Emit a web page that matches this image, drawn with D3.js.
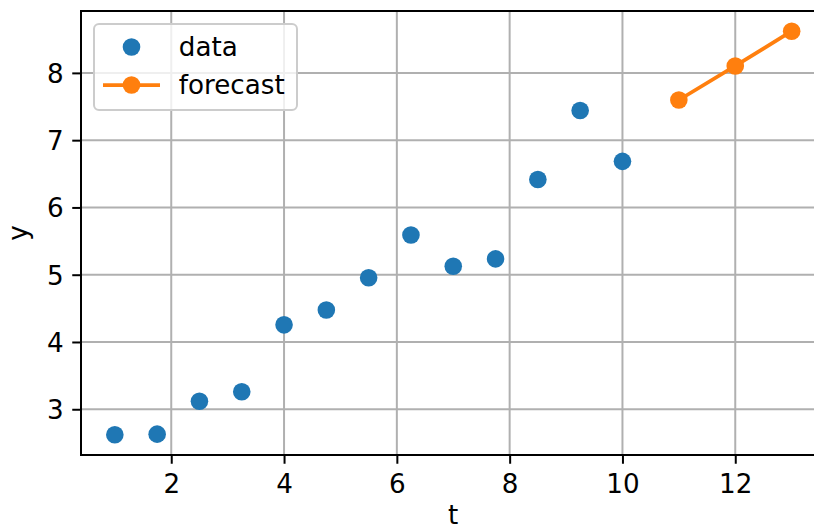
<!DOCTYPE html>
<html><head><meta charset="utf-8">
<script src="https://cdn.jsdelivr.net/npm/d3@7"></script>
<style>html,body{margin:0;padding:0;background:#fff;overflow:hidden}svg{display:block}</style>
</head><body>
<script>
const dataT = [1, 1.75, 2.5, 3.25, 4, 4.75, 5.5, 6.25, 7, 7.75, 8.5, 9.25, 10];
const dataY = [2.62, 2.63, 3.12, 3.26, 4.255, 4.475, 4.955, 5.59, 5.125, 5.235, 6.415, 7.44, 6.685];
const forecastT = [11, 12, 13];
const forecastY = [7.597, 8.103, 8.62];
const xTicks = [2, 4, 6, 8, 10, 12];
const yTicks = [3, 4, 5, 6, 7, 8];
const seriesNames = ["data", "forecast"];

(function () {
const W = 814, H = 530;
const FS = 26.2;
const font = "'DejaVu Sans', sans-serif";
const blue = "#1f77b4", orange = "#ff7f0e";
const pL = 81, pT = 11, pB = 455, pR = 825.5;

const allT = dataT.concat(forecastT), allY = dataY.concat(forecastY);
const tMin = d3.min(allT), tMax = d3.max(allT), yMin = d3.min(allY), yMax = d3.max(allY);
const tm = (tMax - tMin) * 0.05, ym = (yMax - yMin) * 0.05;
const x = d3.scaleLinear().domain([tMin - tm, tMax + tm]).range([pL, pR]);
const y = d3.scaleLinear().domain([yMin - ym, yMax + ym]).range([pB, pT]);

const svg = d3.select("body").append("svg").attr("width", W).attr("height", H)
  .style("font-family", font);

// grid
const g = svg.append("g");
g.selectAll("line.gx").data(xTicks).join("line")
  .attr("x1", d => x(d)).attr("x2", d => x(d)).attr("y1", pT).attr("y2", pB)
  .attr("stroke", "#b0b0b0").attr("stroke-width", 2);
g.selectAll("line.gy").data(yTicks).join("line")
  .attr("y1", d => y(d)).attr("y2", d => y(d)).attr("x1", pL).attr("x2", pR)
  .attr("stroke", "#b0b0b0").attr("stroke-width", 2);

// axes
const xAxis = d3.axisBottom(x).tickValues(xTicks).tickSize(8.75).tickPadding(5).tickFormat(d3.format("d"));
const yAxis = d3.axisLeft(y).tickValues(yTicks).tickSize(8.75).tickPadding(8.5).tickFormat(d3.format("d"));
const gx = svg.append("g").attr("transform", `translate(0,${pB})`).call(xAxis);
const gy = svg.append("g").attr("transform", `translate(${pL},0)`).call(yAxis);
[gx, gy].forEach(a => {
  a.select(".domain").remove();
  a.selectAll(".tick line").attr("stroke", "#000").attr("stroke-width", 2);
  a.selectAll(".tick text").attr("fill", "#000").style("font-family", font).style("font-size", FS + "px");
});
gx.selectAll(".tick text").attr("dy", null).attr("y", 38.3);
gy.selectAll(".tick text").attr("dy", "0.36em");

// spines
svg.append("line").attr("x1", pL).attr("x2", pL).attr("y1", pT).attr("y2", pB + 1)
  .attr("stroke", "#000").attr("stroke-width", 2);
svg.append("line").attr("x1", pL - 1).attr("x2", pR).attr("y1", pB).attr("y2", pB)
  .attr("stroke", "#000").attr("stroke-width", 2);
svg.append("line").attr("x1", pL - 1).attr("x2", pR).attr("y1", pT).attr("y2", pT)
  .attr("stroke", "#000").attr("stroke-width", 2);

// data
svg.append("g").selectAll("circle").data(dataT.map((t, i) => [t, dataY[i]])).join("circle")
  .attr("cx", d => x(d[0])).attr("cy", d => y(d[1])).attr("r", 8.8).attr("fill", blue);

const fc = forecastT.map((t, i) => [t, forecastY[i]]);
svg.append("path").datum(fc)
  .attr("d", d3.line().x(d => x(d[0])).y(d => y(d[1])))
  .attr("fill", "none").attr("stroke", orange).attr("stroke-width", 3.75);
svg.append("g").selectAll("circle").data(fc).join("circle")
  .attr("cx", d => x(d[0])).attr("cy", d => y(d[1])).attr("r", 8.8).attr("fill", orange);

// axis labels
svg.append("text").attr("x", (pL + pR) / 2).attr("y", 524).attr("text-anchor", "middle")
  .style("font-size", FS + "px").text("t");
svg.append("text").attr("transform", `translate(27,${(pT + pB) / 2}) rotate(-90)`)
  .attr("text-anchor", "middle").style("font-size", FS + "px").text("y");

// legend
const lg = svg.append("g");
lg.append("rect").attr("x", 94).attr("y", 24).attr("width", 203).attr("height", 86)
  .attr("rx", 5).attr("fill", "#fff").attr("fill-opacity", 0.8)
  .attr("stroke", "#cccccc").attr("stroke-width", 2);
const rowY = [47, 85];
lg.append("circle").attr("cx", 131.5).attr("cy", rowY[0]).attr("r", 8.8).attr("fill", blue);
lg.append("line").attr("x1", 103).attr("x2", 160).attr("y1", rowY[1]).attr("y2", rowY[1])
  .attr("stroke", orange).attr("stroke-width", 3.75);
lg.append("circle").attr("cx", 131.5).attr("cy", rowY[1]).attr("r", 8.8).attr("fill", orange);
lg.selectAll("text").data(seriesNames).join("text")
  .attr("x", 178.8).attr("y", (d, i) => rowY[i] + 9.2)
  .style("font-size", FS + "px").text(d => d);
})();
</script>
</body></html>
